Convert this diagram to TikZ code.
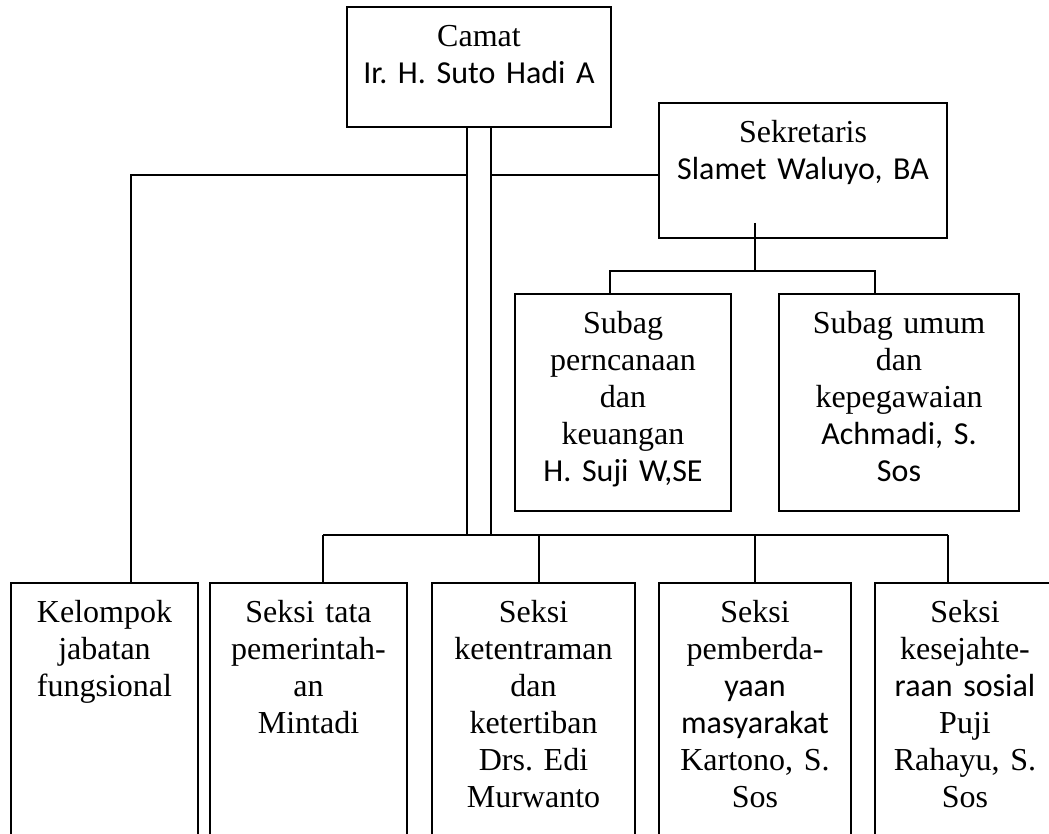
\documentclass[tikz,border=0pt]{standalone}
\usepackage{fontspec}
\setmainfont{Liberation Serif}
\newfontfamily\calfont{Carlito}
\frenchspacing
\tikzset{
  orgbox/.style={draw, line width=1.1pt, rectangle, inner sep=0pt},
  txt/.style={inner sep=0pt, align=center, anchor=base, text width=#1,
    font=\fontsize{24}{27.75}\selectfont\frenchspacing},
  conn/.style={line width=1.1pt},
}
\begin{document}
\begin{tikzpicture}[x=0.75pt,y=-0.75pt]
\clip (0,0) rectangle (1049,834);
\fill[white] (0,0) rectangle (1049,834);

% boxes
\node[orgbox, minimum width=198pt, minimum height=90pt] (camat) at (479,67) {};
\node[orgbox, minimum width=216pt, minimum height=101.25pt] (sek) at (803,170.5) {};
\node[orgbox, minimum width=162pt, minimum height=162.75pt] (subA) at (623,402.5) {};
\node[orgbox, minimum width=180pt, minimum height=162.75pt] (subB) at (899,402.5) {};
\node[orgbox, minimum width=140.25pt, minimum height=237.75pt] (k1) at (104.5,741.5) {};
\node[orgbox, minimum width=147.75pt, minimum height=237.75pt] (k2) at (308.5,741.5) {};
\node[orgbox, minimum width=152.25pt, minimum height=237.75pt] (k3) at (533.5,741.5) {};
\node[orgbox, minimum width=144pt, minimum height=237.75pt] (k4) at (755,741.5) {};
\node[orgbox, minimum width=135pt, minimum height=237.75pt] (k5) at (965,741.5) {};

% texts
\node[txt=190pt] (camatT) at ([yshift=-30.5pt]camat.north) {Camat\\{\calfont Ir. H. Suto Hadi A}};
\node[txt=210pt] (sekT) at ([yshift=-30pt]sek.north) {Sekretaris\\{\calfont Slamet Waluyo, BA}};
\node[txt=156pt] (subAT) at ([yshift=-30pt]subA.north) {Subag\\perncanaan\\dan\\keuangan\\{\calfont H. Suji W,SE}};
\node[txt=174pt] (subBT) at ([yshift=-30pt]subB.north) {Subag umum\\dan\\kepegawaian\\{\calfont Achmadi, S.}\\{\calfont Sos}};
\node[txt=136pt] (k1T) at ([yshift=-30pt]k1.north) {Kelompok\\jabatan\\fungsional};
\node[txt=144pt] (k2T) at ([yshift=-30pt]k2.north) {Seksi tata\\pemerintah-\\an\\Mintadi};
\node[txt=148pt] (k3T) at ([yshift=-30pt]k3.north) {Seksi\\ketentraman\\dan\\ketertiban\\Drs. Edi\\Murwanto};
\node[txt=140pt] (k4T) at ([yshift=-30pt]k4.north) {Seksi\\pemberda-\\{\calfont yaan}\\{\calfont masyarakat}\\Kartono, S.\\Sos};
\node[txt=130pt] (k5T) at ([yshift=-30pt]k5.north) {Seksi\\kesejahte-\\{\calfont raan sosial}\\Puji\\Rahayu, S.\\Sos};

% connector coordinates
\coordinate (dL) at (467,535);
\coordinate (dR) at (491,535);
\coordinate (tL) at (131,175);
\coordinate (tM) at (467,175);
\coordinate (tR) at (491,175);
\coordinate (b2) at (323,535);
\coordinate (b3) at (539,535);
\coordinate (b4) at (755,535);
\coordinate (b5) at (948,535);
\coordinate (sIn) at (755,223);
\coordinate (sBus) at (755,271);
\coordinate (sa) at (610,271);
\coordinate (sb) at (875,271);

% Camat double trunk
\draw[conn] (camat.south -| dL) -- (dL);
\draw[conn] (camat.south -| dR) -- (dR);
% top branch
\draw[conn] (k1.north -| tL) -- (tL) -- (tM);
\draw[conn] (tR) -- (tR -| sek.west);
% bottom bus
\draw[conn] (b2) -- (b5);
\draw[conn] (b2) -- (b2 |- k2.north);
\draw[conn] (b3) -- (b3 |- k3.north);
\draw[conn] (b4) -- (b4 |- k4.north);
\draw[conn] (b5) -- (b5 |- k5.north);
% sekretaris branch
\draw[conn] (sIn) -- (sBus);
\draw[conn] (subA.north -| sa) -- (sa) -- (sb) -- (subB.north -| sb);
\end{tikzpicture}
\end{document}
